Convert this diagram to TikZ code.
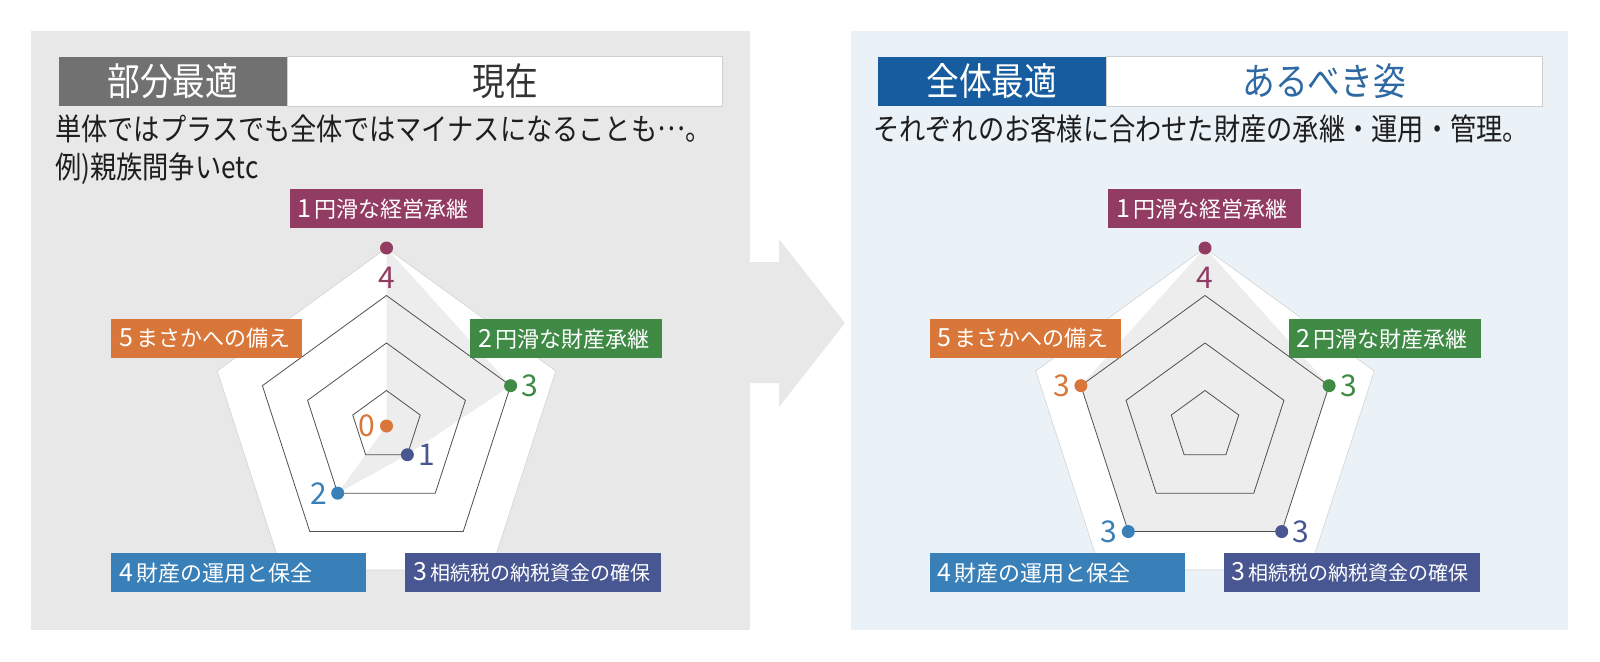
\documentclass[tikz,border=0pt]{standalone}
\usepackage{fontspec}
\setmainfont{Noto Sans CJK JP}
\newfontfamily\narrowjp[FakeStretch=0.86]{Noto Sans CJK JP}
\usetikzlibrary{positioning,calc}

\definecolor{panelgray}{HTML}{E8E8E8}
\definecolor{panelblue}{HTML}{EAF2F8}
\definecolor{hdgray}{HTML}{717171}
\definecolor{hdblue}{HTML}{165C9E}
\definecolor{txtblue}{HTML}{2E69A3}
\definecolor{nowtext}{HTML}{333333}
\definecolor{desctext}{HTML}{1E1E1E}
\definecolor{boxline}{HTML}{CFCFCF}
\definecolor{pentline}{HTML}{D3D3D3}
\definecolor{gridc}{HTML}{505050}
\definecolor{dataf}{HTML}{EDEDED}
\definecolor{cmaroon}{HTML}{923C63}
\definecolor{cgreen}{HTML}{3F8B46}
\definecolor{cnavy}{HTML}{485792}
\definecolor{cblue}{HTML}{3A80B8}
\definecolor{corange}{HTML}{D9773A}

\tikzset{
  headbox/.style={anchor=north west, minimum height=49.5pt, inner sep=0pt, font=\narrowjp\fontsize{38}{40}\selectfont},
  axisbox/.style={fill=#1, text=white, anchor=north west, minimum height=39pt, inner xsep=8pt, inner ysep=0pt, align=left, font=\fontsize{22}{24}\selectfont},
  ptdot/.style={circle, fill=#1, inner sep=0pt, minimum size=13pt},
  valtext/.style={text=#1, inner sep=0pt, font=\fontsize{30}{32}\selectfont},
  gridline/.style={draw=gridc, line width=0.8pt},
  outerpent/.style={fill=white, draw=pentline, line width=0.6pt},
  datafill/.style={fill=dataf},
  desc/.style={anchor=base west, inner sep=0pt, text=desctext, font=\narrowjp\fontsize{30.5}{32}\selectfont},
}
\newcommand{\axnum}[1]{{\fontsize{25}{26}\selectfont#1}\hspace{3pt}}
\newcommand{\middots}{\raisebox{0.32em}{…}}

\begin{document}
\begin{tikzpicture}[x=1pt,y=-1pt]
\useasboundingbox (0,0) rectangle (1600,661);
% panels and arrow
\fill[panelgray] (31,31) rectangle (750,630);
\fill[panelblue] (850.5,31) rectangle (1568,630);
\fill[panelgray] (745,262) -- (779,262) -- (779,239) -- (845,323) -- (779,407) -- (779,383) -- (745,383) -- cycle;

% headers
\node[headbox, fill=hdgray, text=white, minimum width=228.5pt] (Lhead) at (58.5,56.5) {部分最適};
\node[headbox, fill=white, draw=boxline, text=nowtext, minimum width=435pt, right=0pt of Lhead] (Lnow) {現在};
\node[headbox, fill=hdblue, text=white, minimum width=227.5pt] (Rhead) at (878,56.5) {全体最適};
\node[headbox, fill=white, draw=boxline, text=txtblue, minimum width=436pt, right=0pt of Rhead] (Rideal) {あるべき姿};

\node[desc] (Ldesc1) at (55,140) {単体ではプラスでも全体ではマイナスになることも\middots 。};
\node[desc] (Ldesc2) at (55,178) {例)親族間争いetc};
\node[desc] (Rdesc) at (873,140) {それぞれのお客様に合わせた財産の承継・運用・管理。};

% chart frames
\foreach \s/\cx in {L/386.5,R/1205}{
  \coordinate (\s c) at (\cx,426);
  \draw[outerpent] ($(\s c)+(-90:178)$) -- ($(\s c)+(-18:178)$) -- ($(\s c)+(54:178)$) -- ($(\s c)+(126:178)$) -- ($(\s c)+(198:178)$) -- cycle;
}

% data
\foreach \k/\r in {1/178,2/130.5,3/35.5,4/83,5/0}
  \coordinate (Lp\k) at ($(Lc)+({72*\k-162}:\r)$);
\foreach \k/\r in {1/178,2/130.5,3/130.5,4/130.5,5/130.5}
  \coordinate (Rp\k) at ($(Rc)+({72*\k-162}:\r)$);
\foreach \s in {L,R}
  \fill[datafill] (\s p1) -- (\s p2) -- (\s p3) -- (\s p4) -- (\s p5) -- cycle;

% grid
\foreach \s in {L,R}
  \foreach \r in {35.5,83,130.5}
    \draw[gridline] ($(\s c)+(-90:\r)$) -- ($(\s c)+(-18:\r)$) -- ($(\s c)+(54:\r)$) -- ($(\s c)+(126:\r)$) -- ($(\s c)+(198:\r)$) -- cycle;

% axis labels
\foreach \s in {L,R}{
  \node[axisbox=cmaroon, text width=177pt] (\s ax1) at ($(\s c)+(-97,-237)$) {\axnum{1}円滑な経営承継};
  \node[axisbox=cgreen, text width=176pt] (\s ax2) at ($(\s c)+(83.5,-107)$) {\axnum{2}円滑な財産承継};
  \node[axisbox=cnavy, text width=240pt] (\s ax3) at ($(\s c)+(18.5,127)$) {\axnum{3}{\fontsize{20}{22}\selectfont 相続税の納税資金の確保}};
  \node[axisbox=cblue, text width=239pt] (\s ax4) at ($(\s c)+(-275.5,127)$) {\axnum{4}財産の運用と保全};
  \node[axisbox=corange, text width=175pt] (\s ax5) at ($(\s c)+(-275.5,-107)$) {\axnum{5}まさかへの備え};
}

% points
\foreach \s in {L,R}
  \foreach \k/\c in {1/cmaroon,2/cgreen,3/cnavy,4/cblue,5/corange}
    \node[ptdot=\c] (\s d\k) at (\s p\k) {};

\node[valtext=cmaroon, below=12pt of Ld1] (Lv1) {4};
\node[valtext=cgreen, right=4pt of Ld2] (Lv2) {3};
\node[valtext=cnavy, right=4pt of Ld3] (Lv3) {1};
\node[valtext=cblue, left=4pt of Ld4] (Lv4) {2};
\node[valtext=corange, left=4pt of Ld5] (Lv5) {0};
\node[valtext=cmaroon, below=12pt of Rd1] (Rv1) {4};
\node[valtext=cgreen, right=4pt of Rd2] (Rv2) {3};
\node[valtext=cnavy, right=4pt of Rd3] (Rv3) {3};
\node[valtext=cblue, left=4pt of Rd4] (Rv4) {3};
\node[valtext=corange, left=4pt of Rd5] (Rv5) {3};
\end{tikzpicture}
\end{document}
